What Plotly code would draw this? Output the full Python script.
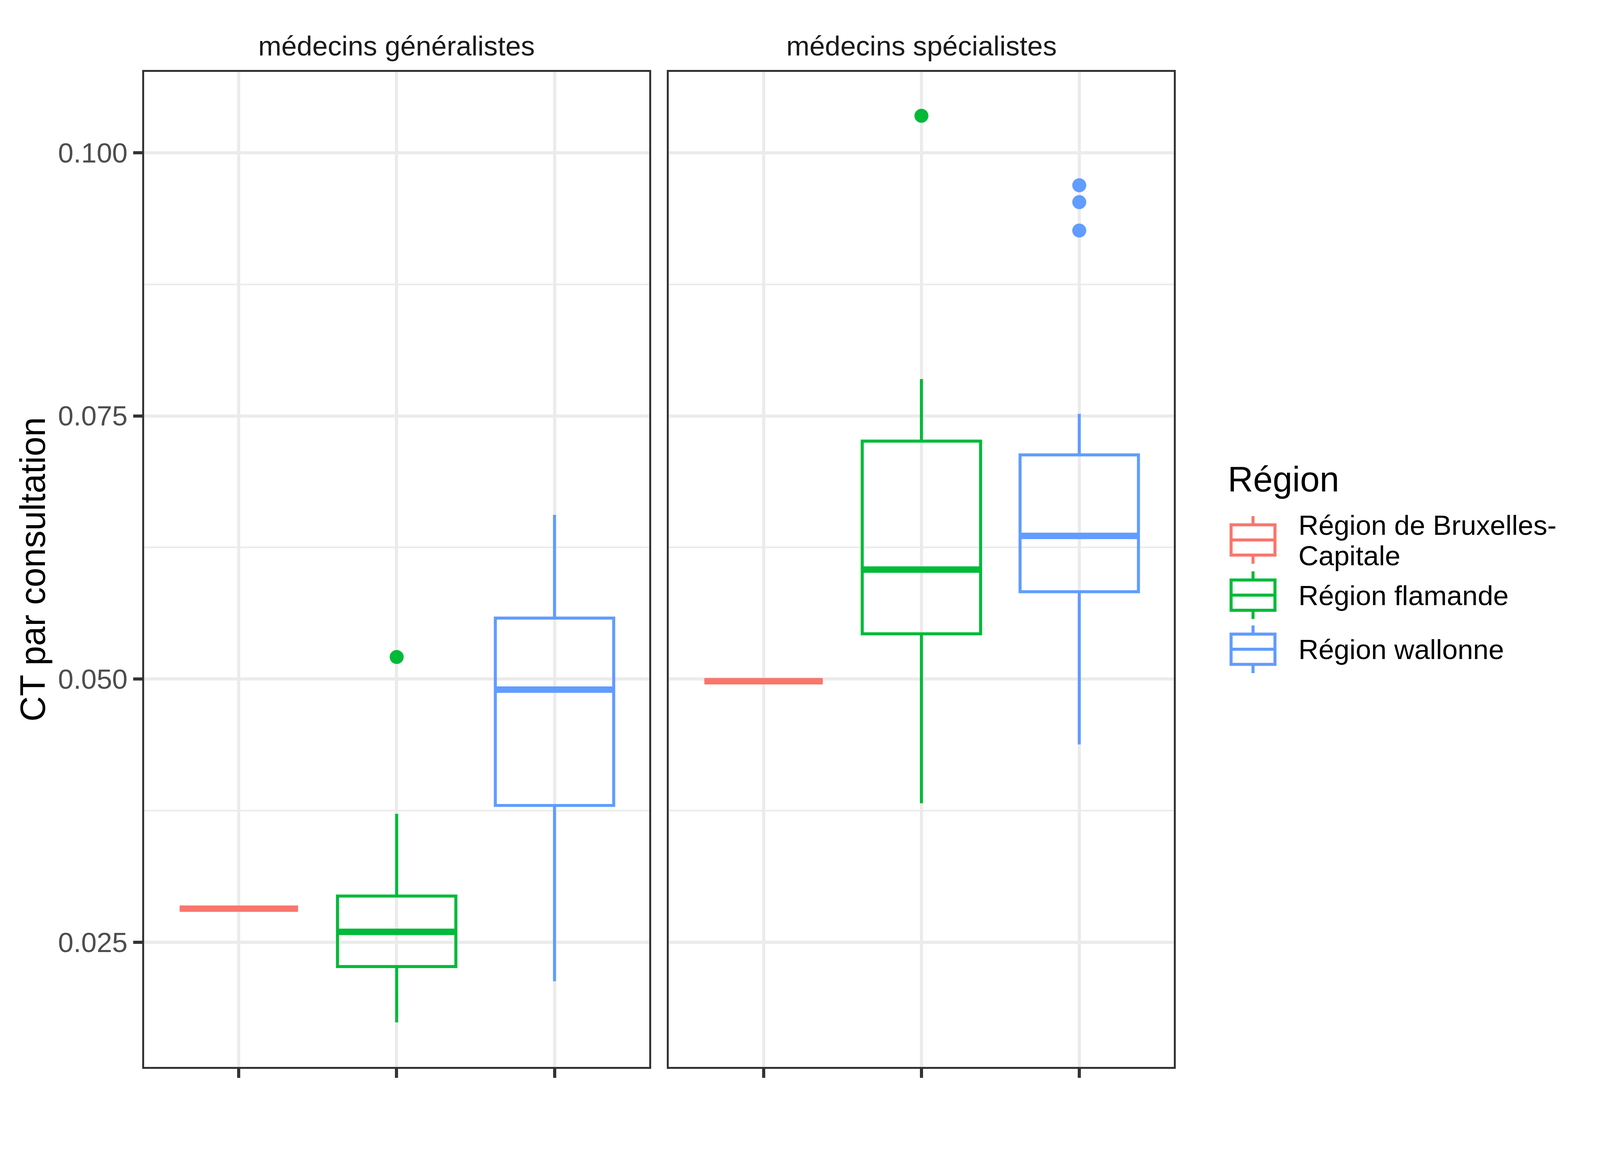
import plotly.graph_objects as go

# valeurs
regions = ["Région de Bruxelles-Capitale", "Région flamande", "Région wallonne"]
legend_lines = [["Région de Bruxelles-", "Capitale"], ["Région flamande"], ["Région wallonne"]]
colors = ["#F8766D", "#00BA38", "#619CFF"]
panels = ["médecins généralistes", "médecins spécialistes"]

gen_lower = [0.0282, 0.0174, 0.0213]
gen_q1 = [0.0282, 0.0227, 0.0380]
gen_median = [0.0282, 0.0260, 0.0490]
gen_q3 = [0.0282, 0.0294, 0.0558]
gen_upper = [0.0282, 0.0372, 0.0656]
gen_outliers = [[], [0.0521], []]

spec_lower = [0.0498, 0.0382, 0.0438]
spec_q1 = [0.0498, 0.0543, 0.0583]
spec_median = [0.0498, 0.0604, 0.0636]
spec_q3 = [0.0498, 0.0726, 0.0713]
spec_upper = [0.0498, 0.0785, 0.0752]
spec_outliers = [[], [0.1035], [0.0969, 0.0953, 0.0926]]

y_ticks = [0.025, 0.050, 0.075, 0.100]
y_ticktext = ["0.025", "0.050", "0.075", "0.100"]

stats = [
    (gen_lower, gen_q1, gen_median, gen_q3, gen_upper, gen_outliers),
    (spec_lower, spec_q1, spec_median, spec_q3, spec_upper, spec_outliers),
]

FONT = "Liberation Sans, Arial, sans-serif"

# the page comes out ~3% larger than css pixels, plus the 8px body margin,
# so sizes are written in picture pixels and converted here
SCALE = 1.0325
W, H = 4050, 2888


def fx(r):
    return (r / SCALE - 8) / W


def fy(r):
    return 1 - (r / SCALE - 8) / H


def sz(v):
    return v / SCALE


BOXW = 0.75

fig = go.Figure()

for p, (lo, q1, med, q3, up, outl) in enumerate(stats):
    xa = "x" if p == 0 else "x2"
    ya = "y" if p == 0 else "y2"
    for i, reg in enumerate(regions):
        pos = i + 1
        fig.add_trace(go.Box(
            x=[pos], q1=[q1[i]], median=[med[i]], q3=[q3[i]],
            lowerfence=[lo[i]], upperfence=[up[i]],
            width=BOXW, whiskerwidth=0, boxpoints=False,
            line=dict(color=colors[i], width=sz(8)),
            fillcolor="rgba(255,255,255,0)",
            name=reg, showlegend=False, xaxis=xa, yaxis=ya, hoverinfo="skip",
        ))
        # median drawn thicker, like ggplot's fatten
        fig.add_trace(go.Scatter(
            x=[pos - BOXW / 2, pos + BOXW / 2], y=[med[i], med[i]],
            mode="lines", line=dict(color=colors[i], width=sz(17)),
            showlegend=False, xaxis=xa, yaxis=ya, hoverinfo="skip",
        ))
        if outl[i]:
            fig.add_trace(go.Scatter(
                x=[pos] * len(outl[i]), y=outl[i], mode="markers",
                marker=dict(color=colors[i], size=sz(37)),
                showlegend=False, xaxis=xa, yaxis=ya, hoverinfo="skip",
            ))

y_range = [0.01316, 0.10767]
x_range = [0.4, 3.6]
border = "#333333"
grid = "#EBEBEB"
dom1 = [fx(381), fx(1716)]
dom2 = [fx(1768), fx(3103)]
ydom = [fy(2820), fy(190)]

common_x = dict(range=x_range, tickvals=[1, 2, 3], ticktext=["", "", ""],
                ticks="outside", ticklen=sz(24), tickwidth=sz(8), tickcolor=border,
                showgrid=True, gridcolor=grid, gridwidth=sz(8), zeroline=False,
                showline=True, linecolor=border, linewidth=sz(5), mirror=True)
common_y = dict(range=y_range, tickvals=y_ticks, ticktext=y_ticktext,
                showgrid=True, gridcolor=grid, gridwidth=sz(8), zeroline=False,
                minor=dict(tickvals=[0.0375, 0.0625, 0.0875], showgrid=True,
                           gridcolor=grid, gridwidth=sz(4), ticks=""),
                showline=True, linecolor=border, linewidth=sz(5), mirror=True)

fig.update_layout(
    width=W, height=H,
    paper_bgcolor="white", plot_bgcolor="white",
    margin=dict(l=0, r=0, t=0, b=0),
    font=dict(family=FONT, size=sz(73.5), color="black"),
    showlegend=False,
    xaxis=dict(domain=dom1, anchor="y", **common_x),
    xaxis2=dict(domain=dom2, anchor="y2", **common_x),
    yaxis=dict(domain=ydom, anchor="x", ticks="outside", ticklen=sz(24),
               tickwidth=sz(8), tickcolor=border,
               tickfont=dict(size=sz(73.5), color="#4D4D4D", family=FONT), **common_y),
    yaxis2=dict(domain=ydom, anchor="x2", ticks="", showticklabels=False,
                matches="y", **common_y),
)

# facet strip titles
for p, name in enumerate(panels):
    dom = dom1 if p == 0 else dom2
    fig.add_annotation(text=name, xref="paper", yref="paper",
                       x=(dom[0] + dom[1]) / 2, y=fy(121),
                       xanchor="center", yanchor="middle", showarrow=False,
                       font=dict(size=sz(73.5), color="#1A1A1A", family=FONT))

fig.add_annotation(text="CT par consultation", xref="paper", yref="paper",
                   x=fx(86), y=(ydom[0] + ydom[1]) / 2, textangle=-90,
                   xanchor="center", yanchor="middle", showarrow=False,
                   font=dict(size=sz(93), color="black", family=FONT))

# legend drawn by hand (plotly's own box icons stay tiny)
fig.add_annotation(text="Région", xref="paper", yref="paper",
                   x=fx(3243), y=fy(1266), xanchor="left", yanchor="middle",
                   showarrow=False, font=dict(size=sz(93), color="black", family=FONT))
key_cx = 3312
key_half = 58
key_y = [1427, 1573, 1716]
text_y = [[1388, 1469], [1574], [1717]]
for i, reg in enumerate(regions):
    cy = key_y[i]
    c = colors[i]
    fig.add_shape(type="rect", xref="paper", yref="paper",
                  x0=fx(key_cx - key_half), x1=fx(key_cx + key_half),
                  y0=fy(cy - 40), y1=fy(cy + 40),
                  line=dict(color=c, width=sz(8)), fillcolor="white")
    fig.add_shape(type="line", xref="paper", yref="paper",
                  x0=fx(key_cx - key_half), x1=fx(key_cx + key_half),
                  y0=fy(cy), y1=fy(cy), line=dict(color=c, width=sz(8)))
    for a, b in [(cy - 63, cy - 40), (cy + 40, cy + 63)]:
        fig.add_shape(type="line", xref="paper", yref="paper",
                      x0=fx(key_cx), x1=fx(key_cx), y0=fy(a), y1=fy(b),
                      line=dict(color=c, width=sz(8)))
    for line_text, ty in zip(legend_lines[i], text_y[i]):
        fig.add_annotation(text=line_text, xref="paper", yref="paper",
                           x=fx(3430), y=fy(ty), xanchor="left", yanchor="middle",
                           align="left", showarrow=False,
                           font=dict(size=sz(73.5), color="black", family=FONT))

fig.write_html("out.html")
